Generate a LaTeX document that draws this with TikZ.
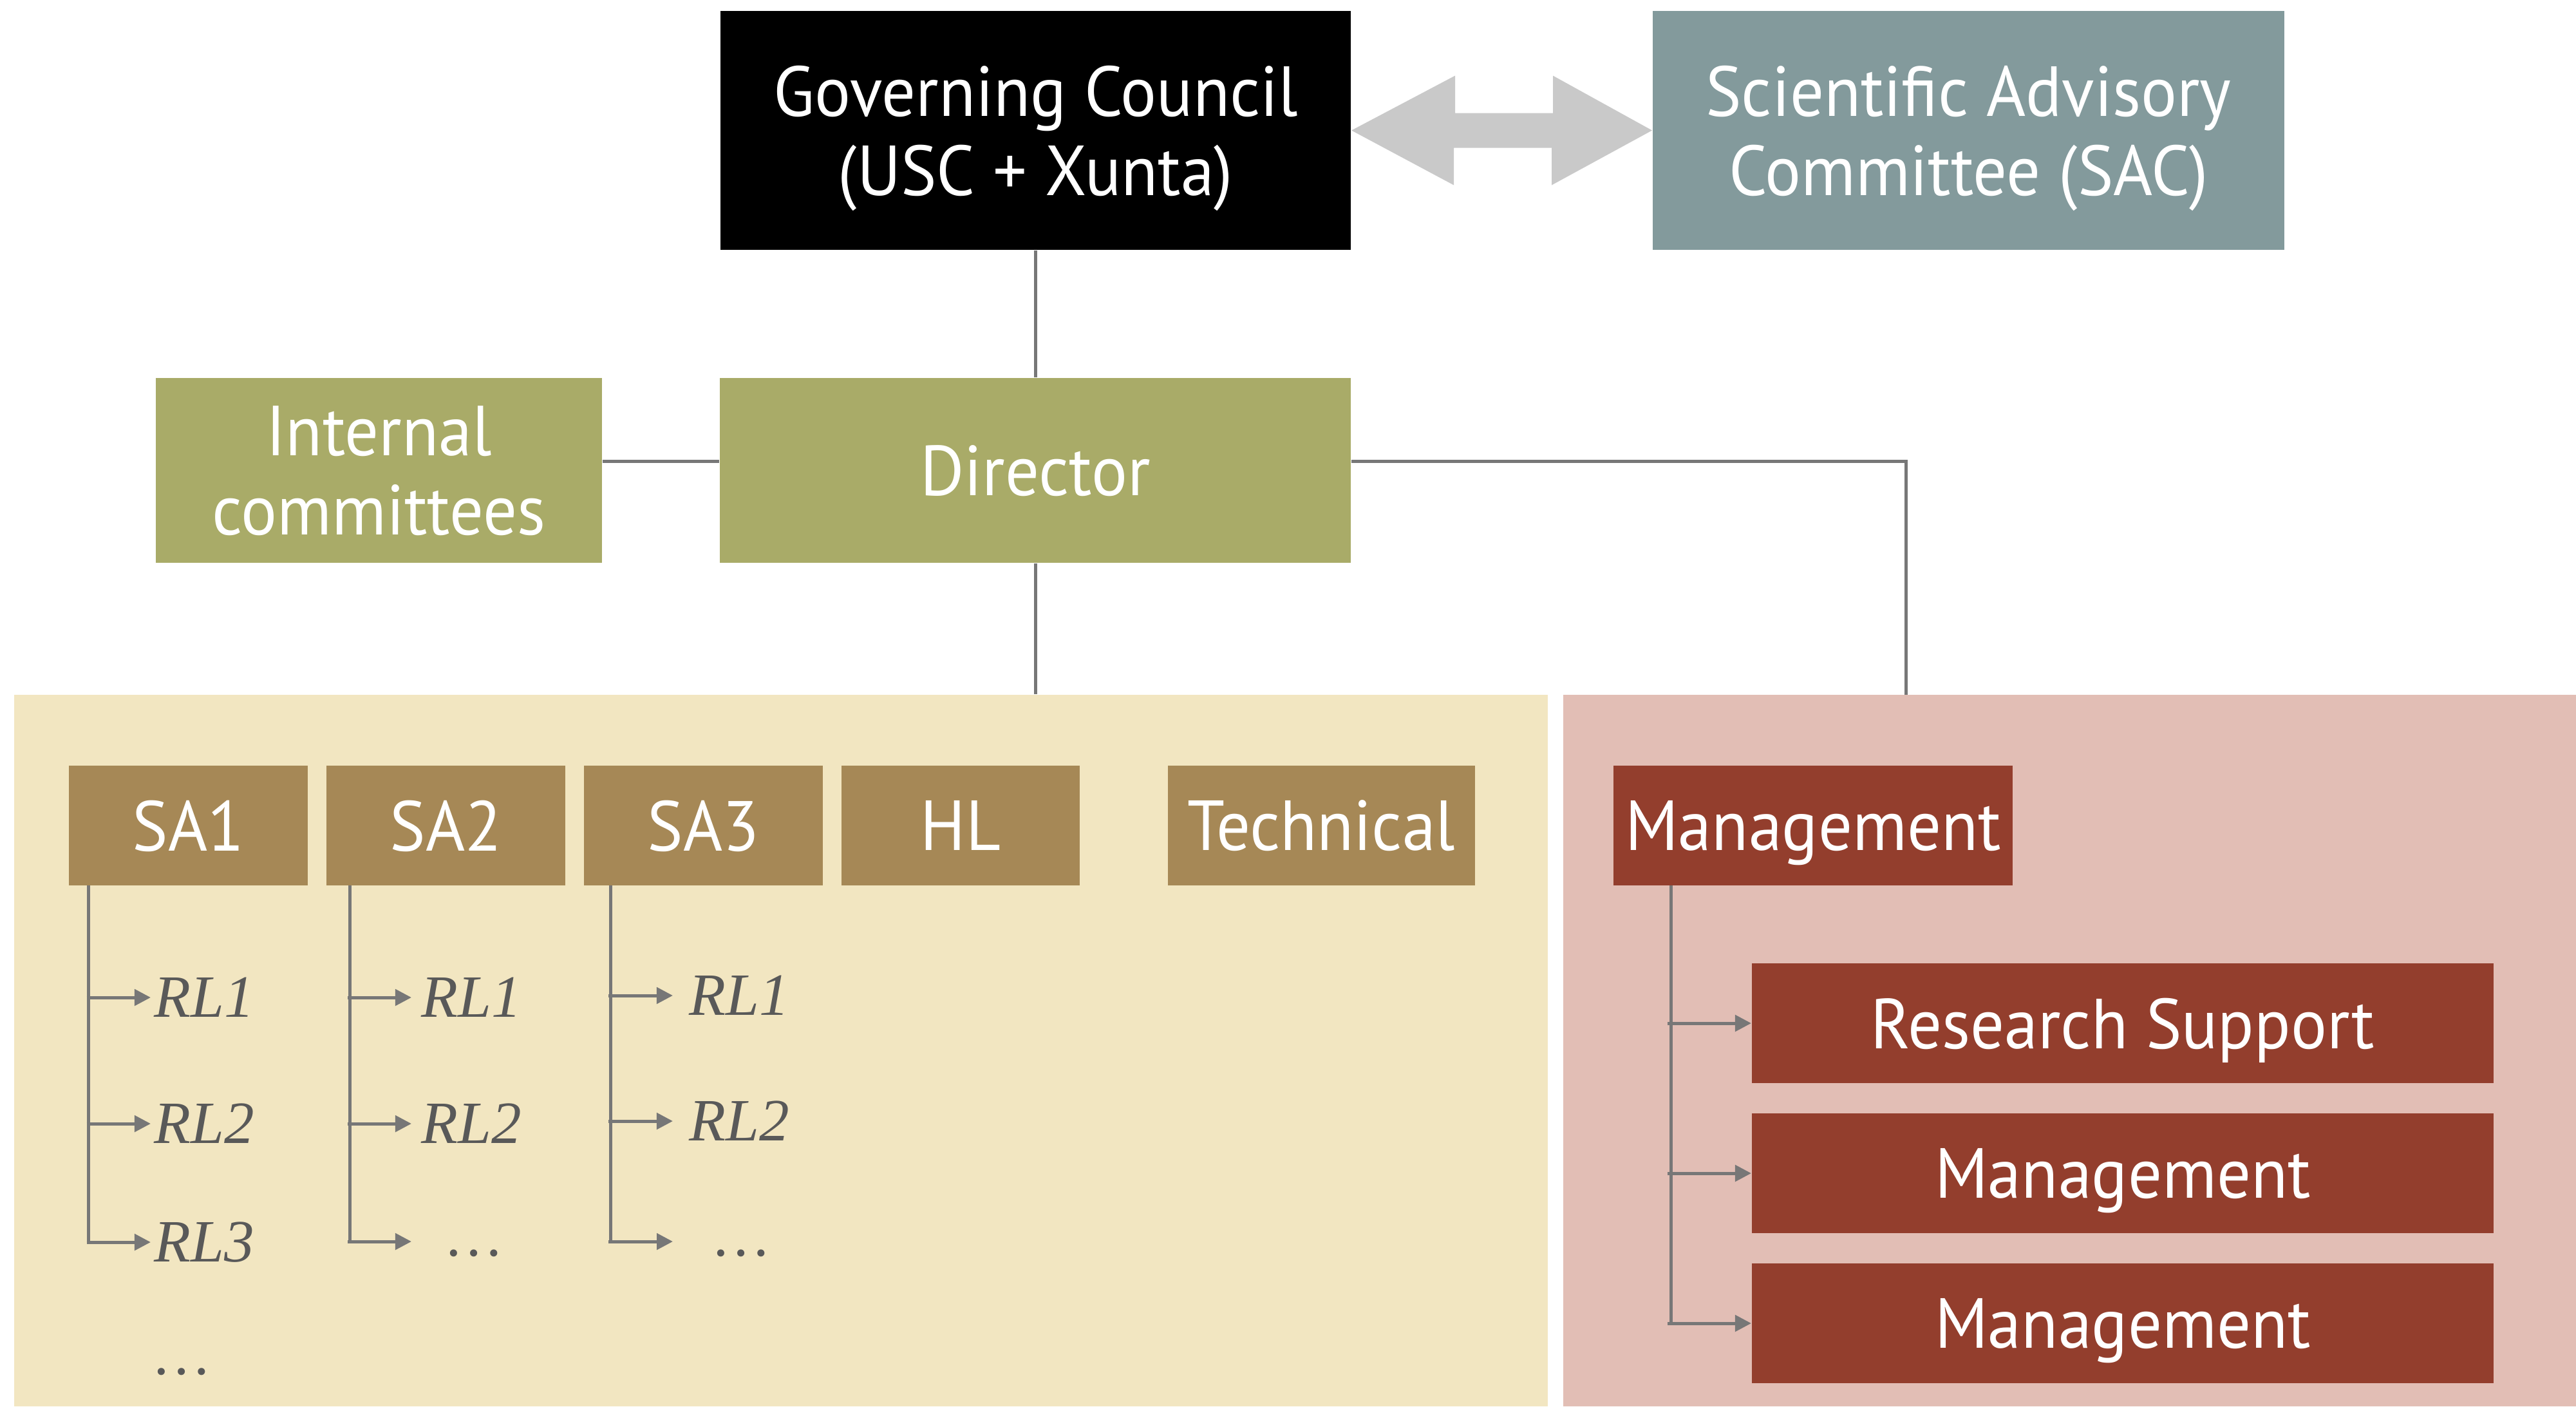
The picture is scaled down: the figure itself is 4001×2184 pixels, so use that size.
\documentclass[tikz,border=0pt]{standalone}
\usepackage{fontspec}
\setmainfont{PT Sans}[FakeStretch=0.95]
\newfontfamily\rlfont{Liberation Serif}
\usetikzlibrary{arrows.meta,calc}
\definecolor{sacgray}{HTML}{839A9C}
\definecolor{olive}{HTML}{A9AB68}
\definecolor{beige}{HTML}{F2E6C1}
\definecolor{sabrown}{HTML}{A68856}
\definecolor{pinkbg}{HTML}{E2BEB5}
\definecolor{darkred}{HTML}{933E2D}
\definecolor{arrowgray}{HTML}{C9C9C9}
\definecolor{linegray}{HTML}{777777}
\definecolor{rlgray}{HTML}{595959}
\tikzset{
  box/.style={rectangle, inner sep=0pt, text=white, align=center, text depth=0pt,
    font=\fontsize{31.3}{35}\selectfont},
  region/.style={rectangle, inner sep=0pt, minimum height=11.05cm},
  conn/.style={draw=linegray, line width=0.05cm},
  arr/.style={conn, -{Triangle[length=0.25cm,width=0.25cm]}},
  rl/.style={inner sep=0pt, anchor=west, text=rlgray,
    font=\rlfont\itshape\fontsize{26.5}{30}\selectfont},
  dots/.style={inner sep=0pt, text=rlgray, font=\rlfont\fontsize{26.5}{30}\selectfont}
}
\begin{document}
\begin{tikzpicture}[x=0.01cm,y=-0.01cm]
\useasboundingbox (0,0) rectangle (4001,2184);

% background regions
\node[region, fill=beige, minimum width=23.80cm] (lab) at (1213,1631.5) {};
\node[region, fill=pinkbg, minimum width=15.73cm] (mreg) at (3214.5,1631.5) {};

% top level
\node[box, fill=black, minimum width=9.79cm, minimum height=3.71cm] (gc) at (1608.5,202.5) {Governing Council\\(USC + Xunta)};
\node[box, fill=sacgray, minimum width=9.81cm, minimum height=3.71cm] (sac) at (3057.5,202.5) {Scientific Advisory\\Committee (SAC)};
\node[box, fill=olive, minimum width=9.80cm, minimum height=2.87cm] (dir) at (1608,730.5) {Director};
\node[box, fill=olive, minimum width=6.93cm, minimum height=2.87cm] (ic) at (588.5,730.5) {Internal\\committees};

% double arrow
\fill[arrowgray] (gc.east) -- ++(161,-85) -- ++(0,58) -- ++(152,0) -- ++(0,-58)
  -- (sac.west) -- ++(-156,85) -- ++(0,-58) -- ++(-152,0) -- ++(0,58) -- cycle;

% units
\node[box, fill=sabrown, minimum width=3.71cm, minimum height=1.86cm] (sa1) at (292.5,1282) {SA1};
\node[box, fill=sabrown, minimum width=3.71cm, minimum height=1.86cm] (sa2) at (692.5,1282) {SA2};
\node[box, fill=sabrown, minimum width=3.71cm, minimum height=1.86cm] (sa3) at (1092.5,1282) {SA3};
\node[box, fill=sabrown, minimum width=3.70cm, minimum height=1.86cm] (hl) at (1492,1282) {HL};
\node[box, fill=sabrown, minimum width=4.77cm, minimum height=1.86cm] (tech) at (2052.5,1282) {Technical};

\node[box, fill=darkred, minimum width=6.20cm, minimum height=1.86cm] (mg) at (2816,1282) {Management};
\node[box, fill=darkred, minimum width=11.52cm, minimum height=1.86cm] (rs) at (3297,1589) {Research Support};
\node[box, fill=darkred, minimum width=11.52cm, minimum height=1.86cm] (m2) at (3297,1822) {Management};
\node[box, fill=darkred, minimum width=11.52cm, minimum height=1.86cm] (m3) at (3297,2055) {Management};

% main connectors
\coordinate (hy) at (0,716);
\coordinate (mj) at (2960,1079);
\draw[conn] (gc.south) -- (gc.south |- dir.north);
\draw[conn] (dir.south) -- (dir.south |- lab.north);
\draw[conn] (ic.east |- hy) -- (dir.west |- hy);
\draw[conn] (dir.east |- hy) -| (mj);

% SA1 list
\node[rl] (r11) at (239,1549) {RL1};
\node[rl] (r12) at (239,1745) {RL2};
\node[rl] (r13) at (239,1929) {RL3};
\node[dots] (d1) at (282,2130) {…};
\coordinate (v1) at (137.5,1375);
\draw[conn] (v1) -- (v1 |- r13.west);
\foreach \n in {r11,r12,r13} \draw[arr, shorten >=0.05cm] ([xshift=-0.03cm]v1 |- \n.west) -- (\n.west);

% SA2 list
\node[rl] (r21) at (654,1549) {RL1};
\node[rl] (r22) at (654,1745) {RL2};
\node[dots] (d2) at (736,1946) {…};
\coordinate (v2) at (543,1375);
\coordinate (e2) at (639,1928);
\draw[conn] (v2) -- (v2 |- e2);
\foreach \n in {r21,r22} \draw[arr, shorten >=0.15cm] ([xshift=-0.03cm]v2 |- \n.west) -- (\n.west);
\draw[arr] ([xshift=-0.03cm]v2 |- e2) -- (e2);

% SA3 list
\node[rl] (r31) at (1070,1546) {RL1};
\node[rl] (r32) at (1070,1741) {RL2};
\node[dots] (d3) at (1151,1946) {…};
\coordinate (v3) at (948,1375);
\coordinate (e3) at (1045,1928);
\draw[conn] (v3) -- (v3 |- e3);
\draw[arr, shorten >=0.25cm] ([xshift=-0.03cm]v3 |- r31.west) -- (r31.west);
\draw[arr, shorten >=0.25cm] ([xshift=-0.03cm]v3 |- r32.west) -- (r32.west);
\draw[arr] ([xshift=-0.03cm]v3 |- e3) -- (e3);

% management list
\coordinate (vm) at (2595,1375);
\draw[conn] (vm) -- (vm |- m3.west);
\foreach \n in {rs,m2,m3} \draw[arr] ([xshift=-0.05cm]vm |- \n.west) -- (\n.west);
\end{tikzpicture}
\end{document}
